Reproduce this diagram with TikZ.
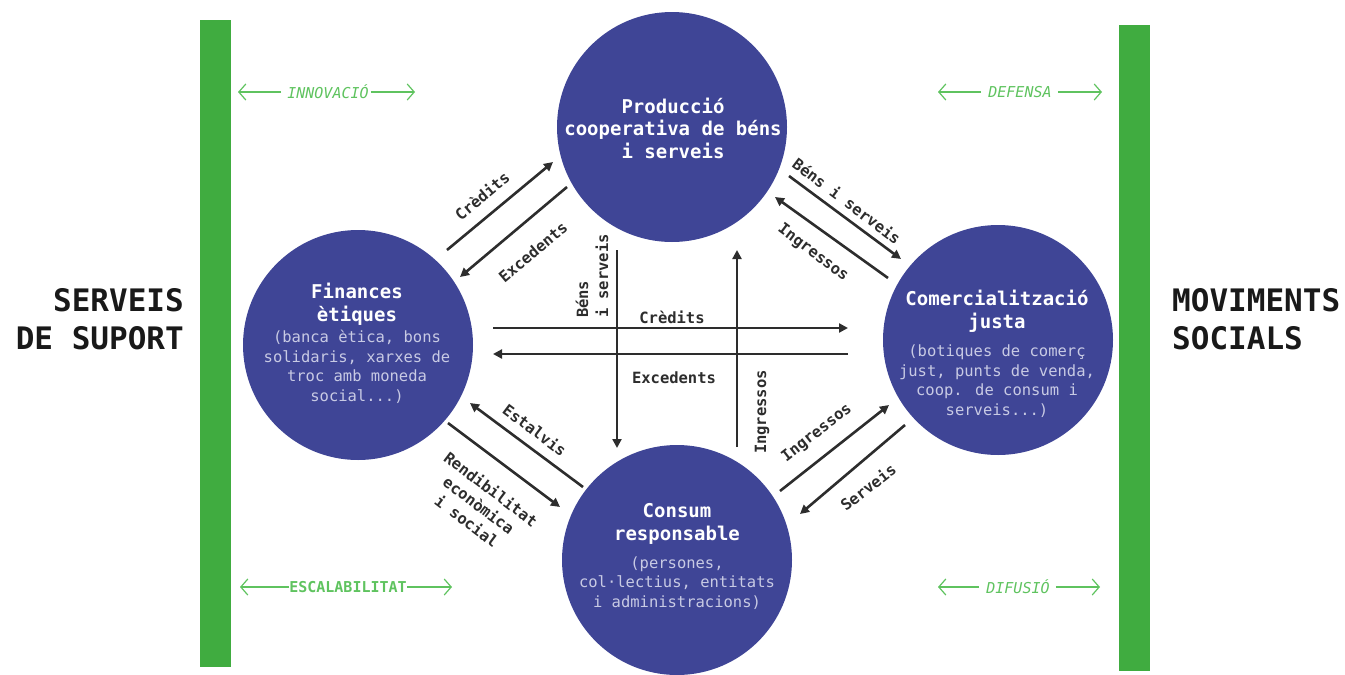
\documentclass[tikz,border=0pt]{standalone}
\usepackage{fontspec}
\setmainfont{DejaVu Sans Mono}
\usetikzlibrary{arrows.meta}
\definecolor{circ}{RGB}{63,69,150}
\definecolor{bar}{RGB}{64,172,64}
\definecolor{lgreen}{RGB}{95,195,95}
\definecolor{subc}{RGB}{200,202,228}
\definecolor{ink}{RGB}{45,45,45}
\begin{document}
\begin{tikzpicture}[x=1pt,y=-1pt,
  circnode/.style={circle,fill=circ,minimum size=230pt,inner sep=0pt},
  titletext/.style={text=white,font=\fontsize{19}{22.5}\selectfont\bfseries,align=center,inner sep=0pt},
  subtext/.style={text=subc,font=\fontsize{15.5}{19.5}\selectfont,align=center,inner sep=0pt},
  flow/.style={draw=ink,line width=2.6pt,-{Triangle[length=9pt,width=9pt]}},
  flab/.style={text=ink,font=\fontsize{15.5}{20}\selectfont\bfseries,inner sep=0pt},
  garrow/.style={draw=lgreen,line width=1.2pt,-{Straight Barb[length=7pt,width=16pt]}},
  glab/.style={text=lgreen,font=\fontsize{15}{16}\selectfont\itshape,inner sep=0pt},
  sidetext/.style={text=black!90,font=\fontsize{31}{38}\selectfont\bfseries,inner sep=0pt}
]
\useasboundingbox (0,0) rectangle (1345,675);
% green bars
\fill[bar] (200,20) rectangle (231,667);
\fill[bar] (1119,25) rectangle (1150,671);
% side texts
\node[sidetext,anchor=east,align=right] (sup) at (184,319) {SERVEIS\\DE SUPORT};
\node[sidetext,anchor=west,align=left] (mov) at (1172,319) {MOVIMENTS\\SOCIALS};
% green labels
\node[glab] (inn) at (328,92) {INNOVACIÓ};
\coordinate (innL) at (238,92); \coordinate (innR) at (415,92);
\draw[garrow] ([xshift=-6pt]inn.west) -- (innL);
\draw[garrow] ([xshift=2pt]inn.east) -- (innR);
\node[glab] (def) at (1020,92) {DEFENSA};
\coordinate (defL) at (938,92); \coordinate (defR) at (1102,92);
\draw[garrow] ([xshift=-7pt]def.west) -- (defL);
\draw[garrow] ([xshift=6pt]def.east) -- (defR);
\node[glab,font=\fontsize{15}{16}\selectfont\bfseries] (esc) at (348,587) {ESCALABILITAT};
\coordinate (escL) at (240,587); \coordinate (escR) at (452,587);
\draw[garrow] (esc.west) -- (escL);
\draw[garrow] (esc.east) -- (escR);
\node[glab] (dif) at (1018,587) {DIFUSIÓ};
\coordinate (difL) at (938,587); \coordinate (difR) at (1100,587);
\draw[garrow] ([xshift=-7pt]dif.west) -- (difL);
\draw[garrow] ([xshift=6pt]dif.east) -- (difR);
% circles
\node[circnode] (prod) at (672,127) {};
\node[circnode] (fin) at (358,345) {};
\node[circnode] (com) at (998,340) {};
\node[circnode] (cons) at (677,560) {};
\node[titletext] (prodT) at (673,128) {Producció\\cooperativa de béns\\i serveis};
\node[titletext] (finT) at (357,304) {Finances\\ètiques};
\node[subtext] (finS) at (357,367) {(banca ètica, bons\\solidaris, xarxes de\\troc amb moneda\\social...)};
\node[titletext] (comT) at (997,311) {Comercialització\\justa};
\node[subtext] (comS) at (997,381) {(botiques de comerç\\just, punts de venda,\\coop. de consum i\\serveis...)};
\node[titletext] (consT) at (677,524) {Consum\\responsable};
\node[subtext] (consS) at (677,583) {(persones,\\col·lectius, entitats\\i administracions)};
% arrow end points
\coordinate (c1s) at (447,250); \coordinate (c1e) at (553,162);
\coordinate (e1s) at (567,187); \coordinate (e1e) at (460,277);
\coordinate (b1s) at (789,176); \coordinate (b1e) at (901,259);
\coordinate (i1s) at (888,278); \coordinate (i1e) at (775,197);
\coordinate (s1s) at (583,487); \coordinate (s1e) at (470,403);
\coordinate (r1s) at (448,423); \coordinate (r1e) at (560,507);
\coordinate (i2s) at (780,491); \coordinate (i2e) at (889,405);
\coordinate (v2s) at (905,425); \coordinate (v2e) at (800,514);
\coordinate (bvs) at (617,250); \coordinate (bve) at (617,448);
\coordinate (ivs) at (737,447); \coordinate (ive) at (737,250);
\coordinate (chs) at (493,328); \coordinate (che) at (848,328);
\coordinate (ehs) at (848,354); \coordinate (ehe) at (493,354);
\draw[flow] (c1s) -- (c1e);
\draw[flow] (e1s) -- (e1e);
\draw[flow] (b1s) -- (b1e);
\draw[flow] (i1s) -- (i1e);
\draw[flow] (s1s) -- (s1e);
\draw[flow] (r1s) -- (r1e);
\draw[flow] (i2s) -- (i2e);
\draw[flow] (v2s) -- (v2e);
\draw[flow] (bvs) -- (bve);
\draw[flow] (ivs) -- (ive);
\draw[flow] (chs) -- (che);
\draw[flow] (ehs) -- (ehe);
% flow labels
\node[flab,rotate=40] (l1) at (482,196) {Crèdits};
\node[flab,rotate=40] (l2) at (533,252) {Excedents};
\node[flab,rotate=-37] (l3) at (847,201) {Béns i serveis};
\node[flab,rotate=-37] (l4) at (813,253) {Ingressos};
\node[flab,rotate=-37] (l5) at (535,430) {Estalvis};
\node[flab,rotate=-37,align=center] (l6) at (479,505) {Rendibilitat\\econòmica\\i social};
\node[flab,rotate=38] (l7) at (817,433) {Ingressos};
\node[flab,rotate=38] (l8) at (868,487) {Serveis};
\node[flab] (l9) at (672,317) {Crèdits};
\node[flab] (l10) at (674,378) {Excedents};
\node[flab,rotate=90,align=left] (l11) at (592,276) {Béns\\i serveis};
\node[flab,rotate=90] (l12) at (762,412) {Ingressos};
\end{tikzpicture}
\end{document}
